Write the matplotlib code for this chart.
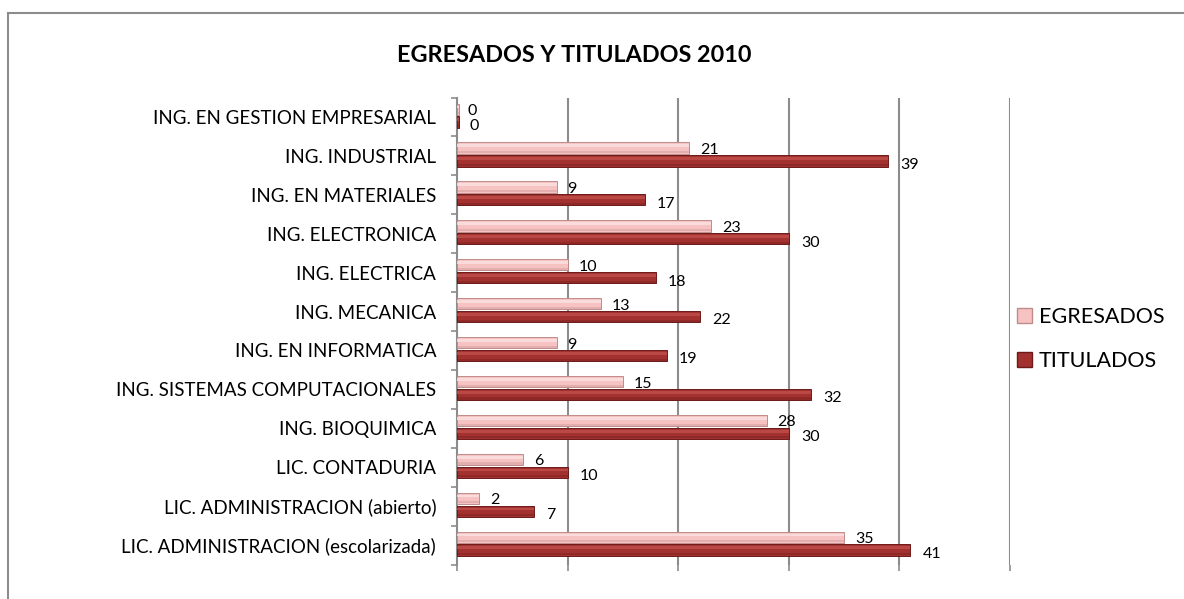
import matplotlib.pyplot as plt
import numpy as np
from matplotlib.lines import Line2D
from matplotlib.patches import Patch

plt.rcParams['font.family'] = ['Lato', 'DejaVu Sans']

categories = [
    "ING. EN GESTION EMPRESARIAL",
    "ING. INDUSTRIAL",
    "ING. EN MATERIALES",
    "ING. ELECTRONICA",
    "ING. ELECTRICA",
    "ING. MECANICA",
    "ING. EN INFORMATICA",
    "ING. SISTEMAS COMPUTACIONALES",
    "ING. BIOQUIMICA",
    "LIC. CONTADURIA",
    "LIC. ADMINISTRACION (abierto)",
    "LIC. ADMINISTRACION (escolarizada)",
]
egresados = [0, 21, 9, 23, 10, 13, 9, 15, 28, 6, 2, 35]
titulados = [0, 39, 17, 30, 18, 22, 19, 32, 30, 10, 7, 41]
series_names = ["EGRESADOS", "TITULADOS"]

# colours: main, light band, dark edge
pink = ("#F6C3C2", "#FCE2E2", "#BF8C8B")
red = ("#A3312F", "#C04E4B", "#6A1B1A")

fig = plt.figure(figsize=(11.84, 5.99), dpi=100)
ax = fig.add_axes([457 / 1184, 1 - 564.5 / 599, (1010 - 457) / 1184, (564.5 - 97.5) / 599])

y = np.arange(len(categories))
h = 0.29


def cylinder(ypos, vals, cols):
    vals = np.maximum(np.array(vals, dtype=float), 0.15)
    ax.barh(ypos, vals, height=h, color=cols[0], edgecolor=cols[2], linewidth=0.7, zorder=3)
    # highlight near the top of the cylinder, shade near the bottom
    ax.barh(ypos - h * 0.2, vals, height=h * 0.25, color=cols[1], alpha=0.8, linewidth=0, zorder=4)
    ax.barh(ypos + h * 0.36, vals, height=h * 0.18, color=cols[2], alpha=0.35, linewidth=0, zorder=4)


cylinder(y - 0.2, egresados, pink)
cylinder(y + 0.13, titulados, red)

for i in range(len(categories)):
    ax.annotate(str(egresados[i]), (egresados[i], y[i] - 0.15), xytext=(11, 0),
                textcoords='offset pixels', va='center', ha='left', fontsize=11.5, zorder=5)
    ax.annotate(str(titulados[i]), (titulados[i], y[i] + 0.23), xytext=(12, 0),
                textcoords='offset pixels', va='center', ha='left', fontsize=11.5, zorder=5)

ax.set_xlim(0, 50)
ax.set_ylim(len(categories) - 0.5, -0.5)
for gx in range(10, 51, 10):
    ax.axvline(gx, color="#8C8C8C", lw=1.5, zorder=1)

for s in ['top', 'right', 'bottom']:
    ax.spines[s].set_visible(False)
ax.spines['left'].set_color("#8C8C8C")
ax.spines['left'].set_linewidth(1.5)

ax.set_yticks(y)
ax.set_yticklabels(categories, fontsize=13.5)
ax.tick_params(axis='y', which='major', length=0, pad=15)
ax.set_yticks(np.arange(-0.5, len(categories), 1), minor=True)
ax.tick_params(axis='y', which='minor', length=4, color="#8C8C8C", width=1.2)
ax.set_xticks(range(0, 51, 10))
ax.set_xticklabels([])
ax.tick_params(axis='x', length=4, color="#8C8C8C", width=1.2)

fig.text(574 / 1184, 1 - 55 / 599, "EGRESADOS Y TITULADOS 2010", ha='center', va='center',
         fontsize=16.8, fontweight='bold')

handles = [Patch(facecolor=pink[0], edgecolor=pink[2]), Patch(facecolor=red[0], edgecolor=red[2])]
fig.legend(handles, series_names, loc='center left', bbox_to_anchor=(998 / 1184, 1 - 339 / 599),
           frameon=False, fontsize=15.5, handlelength=0.7, handleheight=0.7, handletextpad=0.3,
           labelspacing=1.15)

# outer chart border (left and top visible)
x0, y0 = 8 / 1184, 1 - 13 / 599
fig.add_artist(Line2D([x0, 1.0], [y0, y0], color="#8C8C8C", lw=1.5))
fig.add_artist(Line2D([x0, x0], [0, y0], color="#8C8C8C", lw=1.5))

fig.savefig("out.png", dpi=100)
